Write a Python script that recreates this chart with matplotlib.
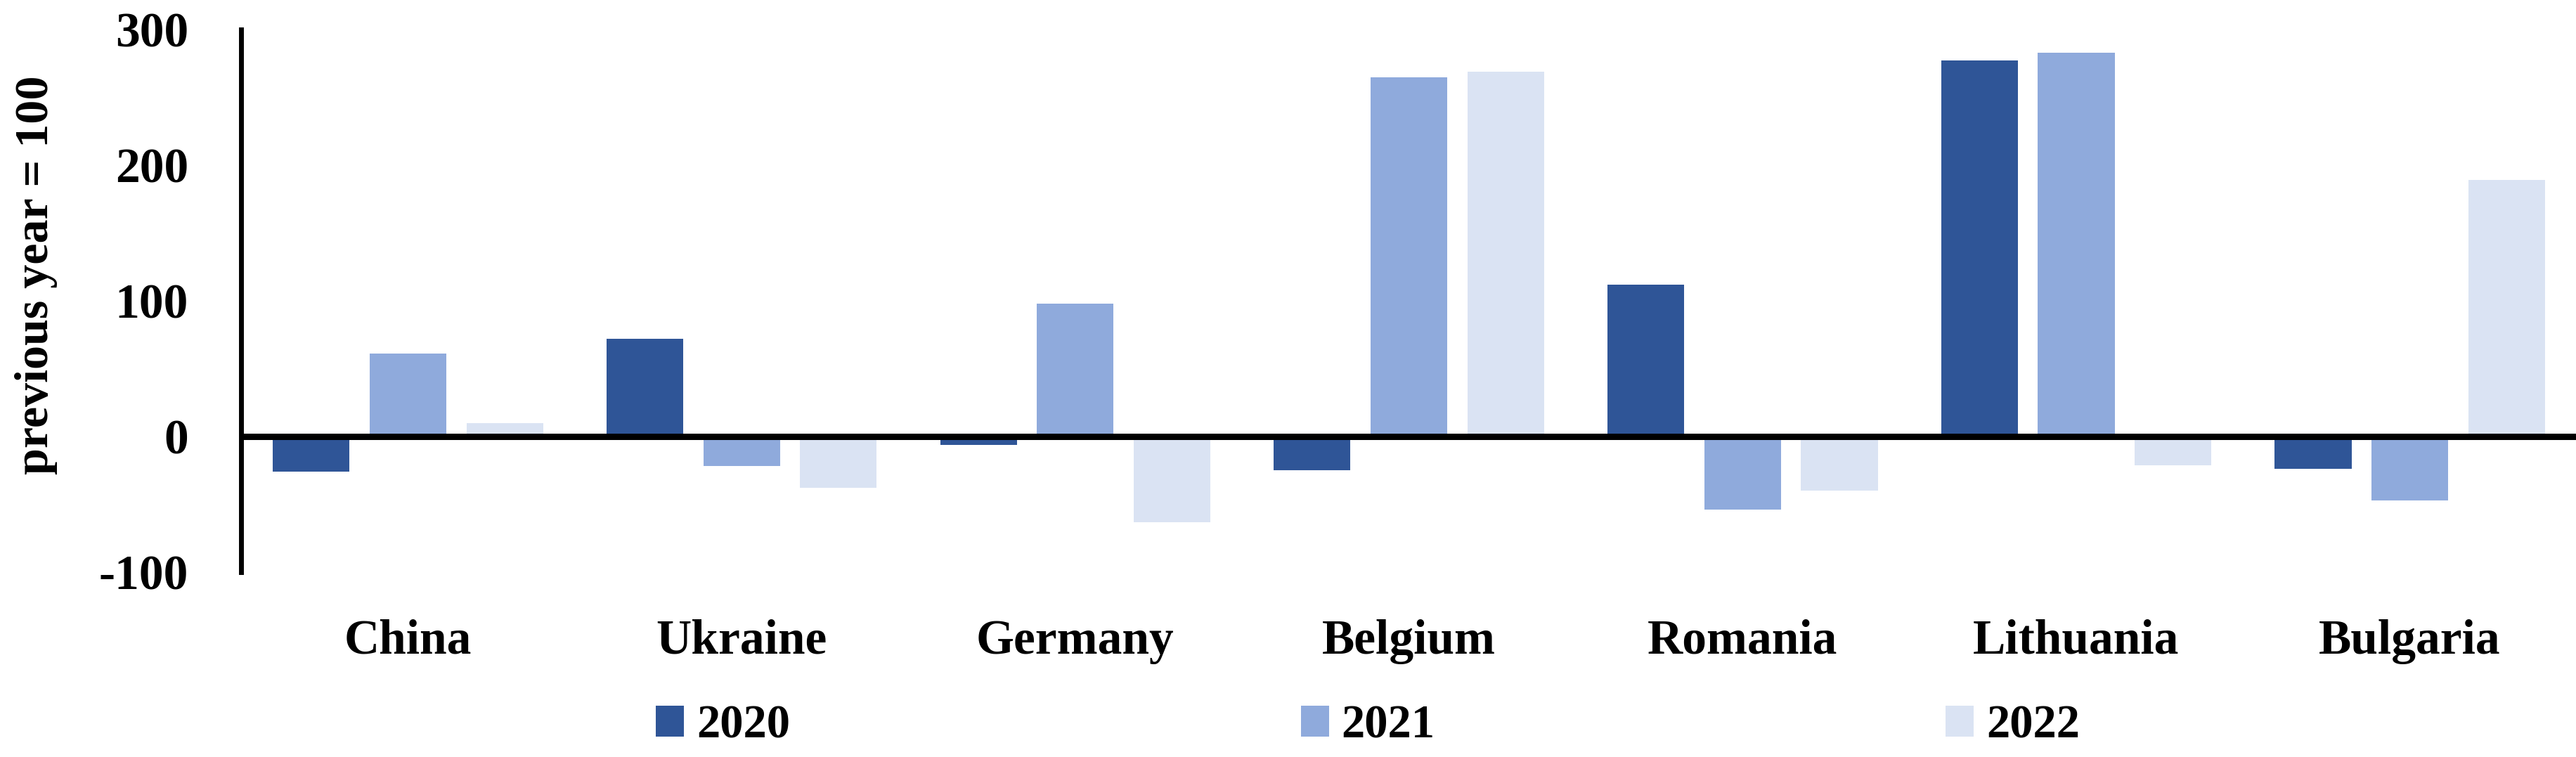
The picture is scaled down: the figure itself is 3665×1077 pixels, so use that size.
import numpy as np
import matplotlib
matplotlib.use("Agg")
import matplotlib.pyplot as plt

countries = ["China", "Ukraine", "Germany", "Belgium", "Romania", "Lithuania", "Bulgaria"]
years = ["2020", "2021", "2022"]
v2020 = [-26, 72, -6, -25, 112, 277, -24]
v2021 = [61, -22, 98, 265, -54, 283, -47]
v2022 = [10, -38, -63, 269, -40, -21, 189]
colors = ["#2F5597", "#8FAADC", "#DAE3F3"]

plt.rcParams['font.family'] = ['Liberation Serif', 'DejaVu Serif']
plt.rcParams['axes.unicode_minus'] = False

fig = plt.figure(figsize=(36.66, 10.77), dpi=100)
ax = fig.add_axes([0.0936, 0.2442, 0.9064, 0.7168])

x = np.arange(len(countries))
step = 0.29
width = 0.23
for i, (vals, name) in enumerate(zip([v2020, v2021, v2022], years)):
    ax.bar(x + (i - 1) * step, vals, width, color=colors[i], label=name, zorder=2)

ax.set_xlim(-0.5, len(countries) - 0.5)
ax.set_ylim(-100, 300)
ax.set_yticks([-100, 0, 100, 200, 300])
ax.set_xticks(x)
ax.set_xticklabels(countries, fontsize=50, fontweight='bold')
for lbl in ax.get_yticklabels():
    lbl.set_fontsize(50)
    lbl.set_fontweight('bold')
ax.tick_params(axis='y', length=0, pad=54)
ax.tick_params(axis='x', length=0, pad=48)

for s in ['top', 'right', 'bottom']:
    ax.spines[s].set_visible(False)
ax.spines['left'].set_linewidth(5)
ax.axhline(0, color='black', linewidth=6.5, zorder=3)

ax.set_ylabel("previous year = 100", fontsize=49, fontweight='bold')
ax.yaxis.set_label_coords(-0.0785, 0.547)

fig.legend(loc='center left', bbox_to_anchor=(0.2545, 0.041), ncol=3, frameon=False,
           prop={'weight': 'bold', 'size': 48},
           handlelength=0.6, handleheight=0.65, handletextpad=0.27,
           columnspacing=10.9, borderaxespad=0, borderpad=0)

fig.savefig("out.png", dpi=100)
